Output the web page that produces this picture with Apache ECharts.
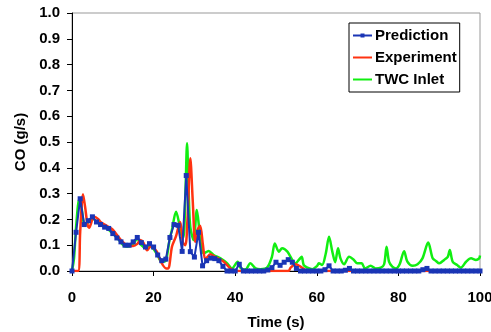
<!DOCTYPE html>
<html><head><meta charset="utf-8">
<script src="https://cdn.jsdelivr.net/npm/echarts@6/dist/echarts.min.js"></script>
<style>html,body{margin:0;padding:0;background:#fff}#c{width:491px;height:332px}</style>
</head><body><div id="c"></div>
<script>
const xTicks = [0, 20, 40, 60, 80, 100];
const yTicks = [0, 0.1, 0.2, 0.3, 0.4, 0.5, 0.6, 0.7, 0.8, 0.9, 1.0];
const seriesNames = ['Prediction', 'Experiment', 'TWC Inlet'];

const predTime = [0,1,2,3,4,5,6,7,8,9,10,11,12,13,14,15,16,17,18,19,20,21,22,23,24,25,26,27,28,29,30,31,32,33,34,35,36,37,38,39,40,41,42,43,44,45,46,47,48,49,50,51,52,53,54,55,56,57,58,59,60,61,62,63,64,65,66,67,68,69,70,71,72,73,74,75,76,77,78,79,80,81,82,83,84,85,86,87,88,89,90,91,92,93,94,95,96,97,98,99,100];
const predValues = [0,0.15,0.28,0.18,0.195,0.21,0.19,0.18,0.17,0.165,0.145,0.128,0.113,0.10,0.10,0.113,0.13,0.11,0.093,0.106,0.093,0.062,0.04,0.046,0.13,0.18,0.177,0.076,0.37,0.075,0.054,0.15,0.02,0.04,0.05,0.048,0.04,0.018,0,0,0,0.026,0,0,0,0,0,0,0.004,0.013,0.034,0.022,0.034,0.044,0.034,0.01,0,0,0,0,0,0,0.005,0.02,0,0,0,0.003,0.01,0,0,0,0,0,0,0,0,0,0,0,0,0,0,0,0,0,0.005,0.01,0,0,0,0,0,0,0,0,0,0,0,0,0];

const expTime = [0,1.5,2.0,2.7,3.2,3.8,4.2,5.0,5.5,6.5,7,8,9,10,11,12,13,14,15,16,16.7,17.5,18.4,19.4,20,20.8,22,23.1,23.6,24.5,25.5,26.5,27.2,27.8,28.3,29,29.6,30.2,30.8,31.4,32.1,32.7,33.9,35,37.2,38.8,40,53,53.6,54.8,56,57.3,58,100];
const expValues = [0,0,0.15,0.297,0.25,0.18,0.168,0.2,0.21,0.2,0.19,0.18,0.17,0.16,0.14,0.12,0.105,0.097,0.097,0.105,0.12,0.11,0.08,0.097,0.09,0.075,0.03,0.01,0.01,0.094,0.135,0.19,0.11,0.10,0.2,0.437,0.27,0.113,0.16,0.175,0.1,0.045,0.065,0.055,0.036,0.01,0,0,0.013,0.026,0.017,0.003,0,0];

const twcTime = [0,0.5,1,1.8,2.3,2.9,3.5,4,5,6,7,8,9,10,11,12,13,14,15,16,17,18,19,20,21,22,23,23.9,24.5,25.5,26.2,26.8,27.3,27.8,28.2,28.6,29,29.8,30.6,31.2,31.7,32.3,33.5,34.7,36.4,38,39.2,40.6,41.3,42.5,43.7,45,46.2,47.8,49,49.7,50.7,51.5,52.8,54,54.8,55.7,56.3,56.8,57.7,58.9,60.1,60.5,61.3,62.2,63,63.8,64.5,65.2,65.8,66.7,67.9,69.1,69.9,71,71.8,73.2,74.4,75.7,76.5,77.1,77.7,78.5,79.4,80.3,81.4,82.2,83.5,84.7,85.9,87.3,88.4,89.2,90,91.2,92.1,92.6,93.3,94.4,95.3,96.6,97.8,99,99.8,100];
const twcValues = [0,0.05,0.17,0.28,0.25,0.185,0.18,0.19,0.205,0.19,0.18,0.17,0.16,0.145,0.13,0.11,0.095,0.095,0.105,0.125,0.10,0.09,0.10,0.085,0.06,0.035,0.04,0.12,0.16,0.23,0.19,0.14,0.13,0.3,0.495,0.3,0.17,0.12,0.236,0.16,0.09,0.068,0.078,0.062,0.049,0.03,0.01,0.036,0.012,0.005,0.03,0.01,0.007,0.013,0.055,0.107,0.075,0.088,0.075,0.043,0.03,0.045,0.055,0.023,0.013,0.007,0.02,0.03,0.023,0.068,0.133,0.075,0.034,0.088,0.049,0.026,0.055,0.043,0.03,0.03,0.01,0.02,0.01,0.013,0.026,0.094,0.036,0.017,0.01,0.026,0.077,0.036,0.02,0.026,0.049,0.11,0.049,0.039,0.03,0.043,0.055,0.081,0.036,0.023,0.013,0.036,0.049,0.043,0.049,0.06];

const zip = (t, v) => t.map((x, i) => [x, v[i]]);
const FONT = "'Liberation Sans', Arial, sans-serif";
const BLUE = '#1a35b5', RED = '#ff3311', GREEN = '#11ee11';
const chart = echarts.init(document.getElementById('c'), null, {renderer: 'canvas'});
chart.setOption({
  animation: false,
  backgroundColor: '#fff',
  grid: {left: 72, top: 13, right: 11, bottom: 61, containLabel: false, outerBoundsMode: 'none',
         show: true, borderColor: '#999', borderWidth: 1, backgroundColor: 'transparent'},
  legend: {
    orient: 'vertical', left: 349, top: 23,
    data: [
      {name: seriesNames[0]},
      {name: seriesNames[1], itemStyle: {opacity: 0}},
      {name: seriesNames[2], itemStyle: {opacity: 0}}
    ],
    backgroundColor: '#fff', borderColor: '#000', borderWidth: 1,
    padding: [4, 3, 4, 3], itemGap: 5, itemWidth: 19, itemHeight: 5,
    textStyle: {fontFamily: FONT, fontWeight: 'bold', fontSize: 15, color: '#000', padding: [0, 0, 0, -2], lineHeight: 17}
  },
  xAxis: {
    type: 'value', min: xTicks[0], max: xTicks[xTicks.length - 1], interval: 20,
    name: 'Time (s)', nameLocation: 'middle', nameGap: 44,
    nameTextStyle: {fontFamily: FONT, fontWeight: 'bold', fontSize: 15, color: '#000'},
    axisLine: {lineStyle: {color: '#000', width: 1}},
    axisTick: {show: true, inside: false, length: 5, lineStyle: {color: '#000'}},
    axisLabel: {fontFamily: FONT, fontWeight: 'bold', fontSize: 15, color: '#000', margin: 19},
    splitLine: {show: false}
  },
  yAxis: {
    type: 'value', min: yTicks[0], max: yTicks[yTicks.length - 1], interval: 0.1,
    name: 'CO (g/s)', nameLocation: 'middle', nameGap: 44,
    nameTextStyle: {fontFamily: FONT, fontWeight: 'bold', fontSize: 15, color: '#000'},
    axisLine: {show: true, lineStyle: {color: '#000', width: 1}},
    axisTick: {show: true, inside: false, length: 5, lineStyle: {color: '#000'}},
    axisLabel: {fontFamily: FONT, fontWeight: 'bold', fontSize: 15, color: '#000', margin: 12, formatter: v => v.toFixed(1)},
    splitLine: {show: false}
  },
  series: [
    {name: 'TWC Inlet', type: 'line', data: zip(twcTime, twcValues), symbol: 'none', smooth: 0.3,
     lineStyle: {color: GREEN, width: 2.5}, itemStyle: {color: GREEN}, z: 1},
    {name: 'Experiment', type: 'line', data: zip(expTime, expValues), symbol: 'none', smooth: 0.3,
     lineStyle: {color: RED, width: 2.5}, itemStyle: {color: RED}, z: 2},
    {name: 'Prediction', type: 'line', data: zip(predTime, predValues), symbol: 'rect', symbolSize: 5, showSymbol: true,
     lineStyle: {color: BLUE, width: 2}, itemStyle: {color: BLUE}, z: 3}
  ]
});
</script></body></html>
